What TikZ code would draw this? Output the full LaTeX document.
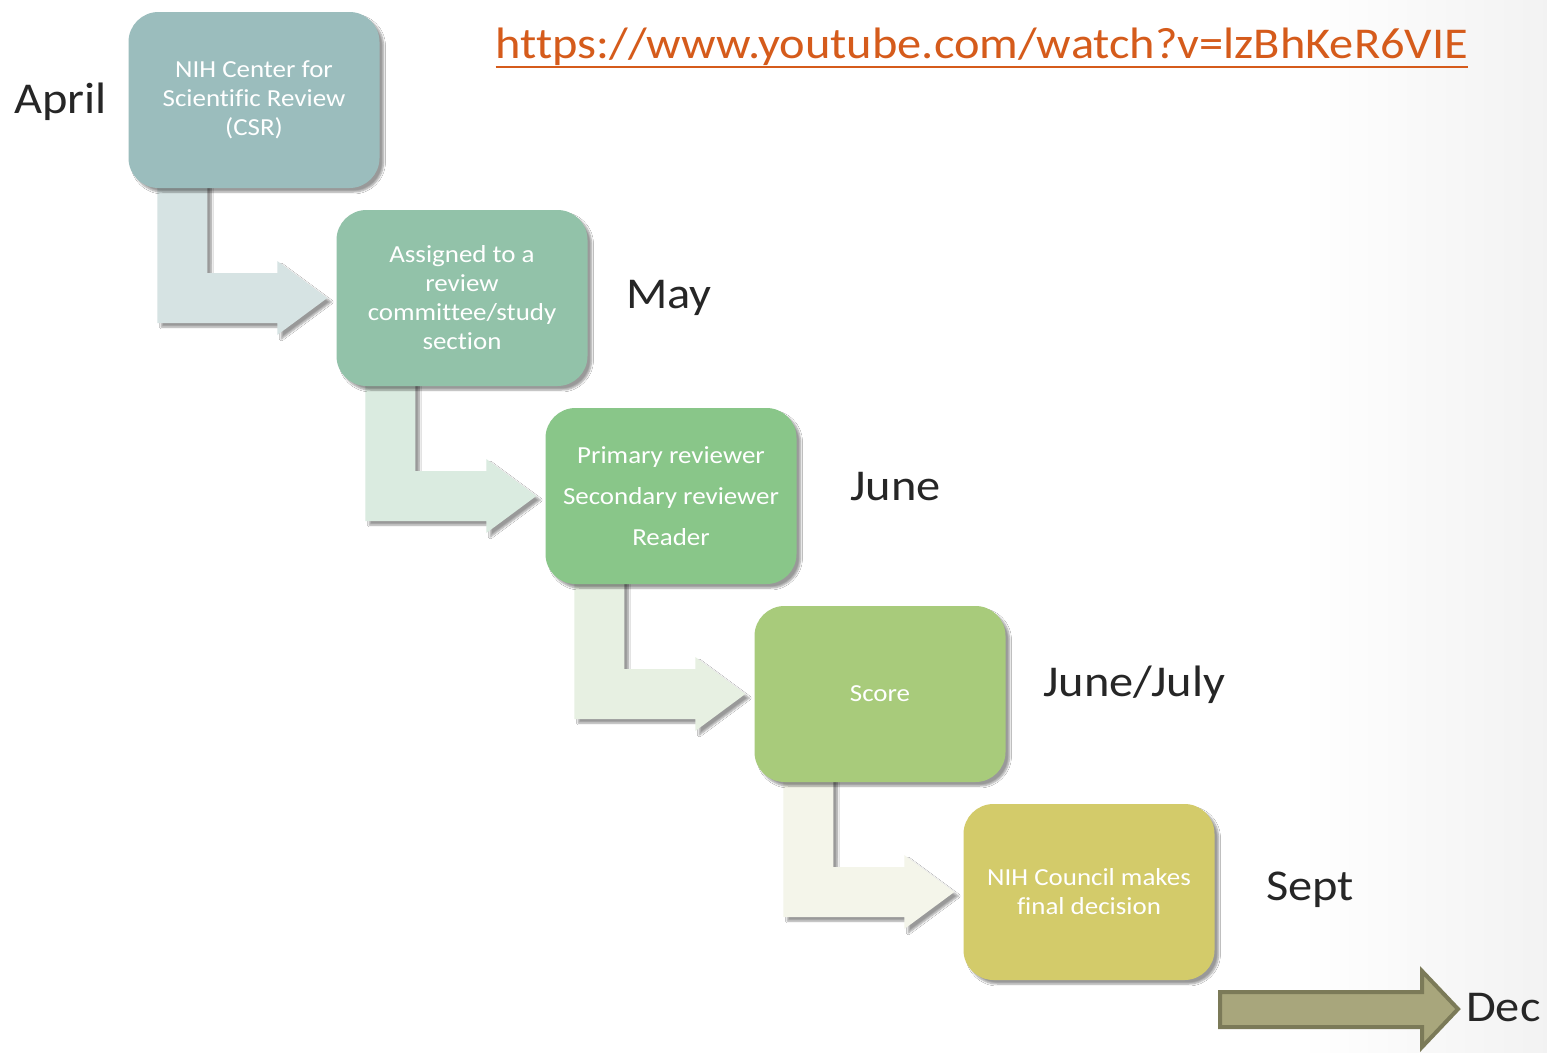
\documentclass[tikz,border=0pt]{standalone}
\usepackage{fontspec}
\setmainfont{Carlito}[FakeStretch=1.1,Ligatures=NoCommon]
\usepackage{tikz}
\usetikzlibrary{calc,backgrounds,shadows.blur}

\definecolor{csrbox}{HTML}{9BBDBD}
\definecolor{assignbox}{HTML}{92C2A9}
\definecolor{reviewbox}{HTML}{89C689}
\definecolor{scorebox}{HTML}{A8CB7B}
\definecolor{councilbox}{HTML}{D3CB6A}
\definecolor{csrarrow}{HTML}{D6E3E3}
\definecolor{assignarrow}{HTML}{DAEBE0}
\definecolor{reviewarrow}{HTML}{E7F0E2}
\definecolor{scorearrow}{HTML}{F4F5EA}
\definecolor{decfill}{HTML}{A8A67C}
\definecolor{decline}{HTML}{7B7A58}
\definecolor{monthtext}{HTML}{262626}
\definecolor{linktext}{HTML}{D55B1B}

\begin{document}
\begin{tikzpicture}[x=1pt,y=-1pt,
      stagebox/.style={rounded corners=30pt,minimum width=251pt,
        minimum height=176pt,inner sep=0pt,text=white,align=center,
        font=\fontsize{24.5}{29}\selectfont,
        blur shadow={shadow xshift=4pt,shadow yshift=-4pt,shadow blur steps=6,shadow opacity=40}},
      month/.style={anchor=base west,inner sep=0pt,text=monthtext,
        font=\fontsize{44}{54}\selectfont}]
      \useasboundingbox (0,0) rectangle (1547,1052);
      % stages
      \node[stagebox,fill=csrbox] (csr) at (254,100) {NIH Center for\\Scientific Review\\(CSR)};
      \node[stagebox,fill=assignbox] (assign) at (462,298) {Assigned to a\\review\\committee/study\\section};
      \node[stagebox,fill=reviewbox] (review) at (671,496) {Primary reviewer\\[12pt]Secondary reviewer\\[12pt]Reader};
      \node[stagebox,fill=scorebox] (score) at (880,694) {Score};
      \node[stagebox,fill=councilbox] (council) at (1089,892) {NIH Council makes\\final decision};
      % months
      \node[month] (april) at (14,113) {April};
      \node[month] (may) at (626,308) {May};
      \node[month] (june) at (850,500) {June};
      \node[month] (junejuly) at (1043,696) {June/July};
      \node[month] (sept) at (1266,900) {Sept};
      \node[month] (dec) at (1466,1021) {Dec};
      % link
      \node[anchor=base,inner sep=0pt,text=linktext,font=\fontsize{44}{50}\selectfont]
        (link) at (982,58) {https://www.youtube.com/watch?v=lzBhKeR6VIE};
      \draw[linktext,line width=2.5pt] ($(link.base west)+(0,9)$) -- ($(link.base east)+(0,9)$);
      % bent arrows behind the boxes
      \begin{scope}[on background layer]
        \fill[white] (0,0) rectangle (1547,1052);
        \shade[left color=white,right color=black!5] (1300,0) rectangle (1547,1052);
        \foreach \a/\b/\col in {csr/assign/csrarrow,assign/review/assignarrow,
            review/score/reviewarrow,score/council/scorearrow}{
          \fill[\col,blur shadow={shadow xshift=4pt,shadow yshift=-4pt,shadow blur steps=6,shadow opacity=40}]
            ($(\a.south west)+(29,-6)$) -- ($(\a.south west)+(79,-6)$)
            |- ($(\b.west)+(-59,-25)$) -- ($(\b.west)+(-59,-37)$)
            -- ($(\b.west)+(-9,0)$) -- ($(\b.west)+(-59,37)$)
            -- ($(\b.west)+(-59,25)$)
            -| ($(\a.south west)+(29,-6)$) -- cycle;
        }
      \end{scope}
      % arrow to Dec
      \draw[decline,fill=decfill,line width=4pt,line join=miter]
        ($(dec.west)+(-246,-15)$) -- ($(dec.west)+(-44,-15)$)
        -- ($(dec.west)+(-44,-36)$) -- ($(dec.west)+(-8,2)$)
        -- ($(dec.west)+(-44,40)$) -- ($(dec.west)+(-44,20)$)
        -- ($(dec.west)+(-246,20)$) -- cycle;
    \end{tikzpicture}
\end{document}
